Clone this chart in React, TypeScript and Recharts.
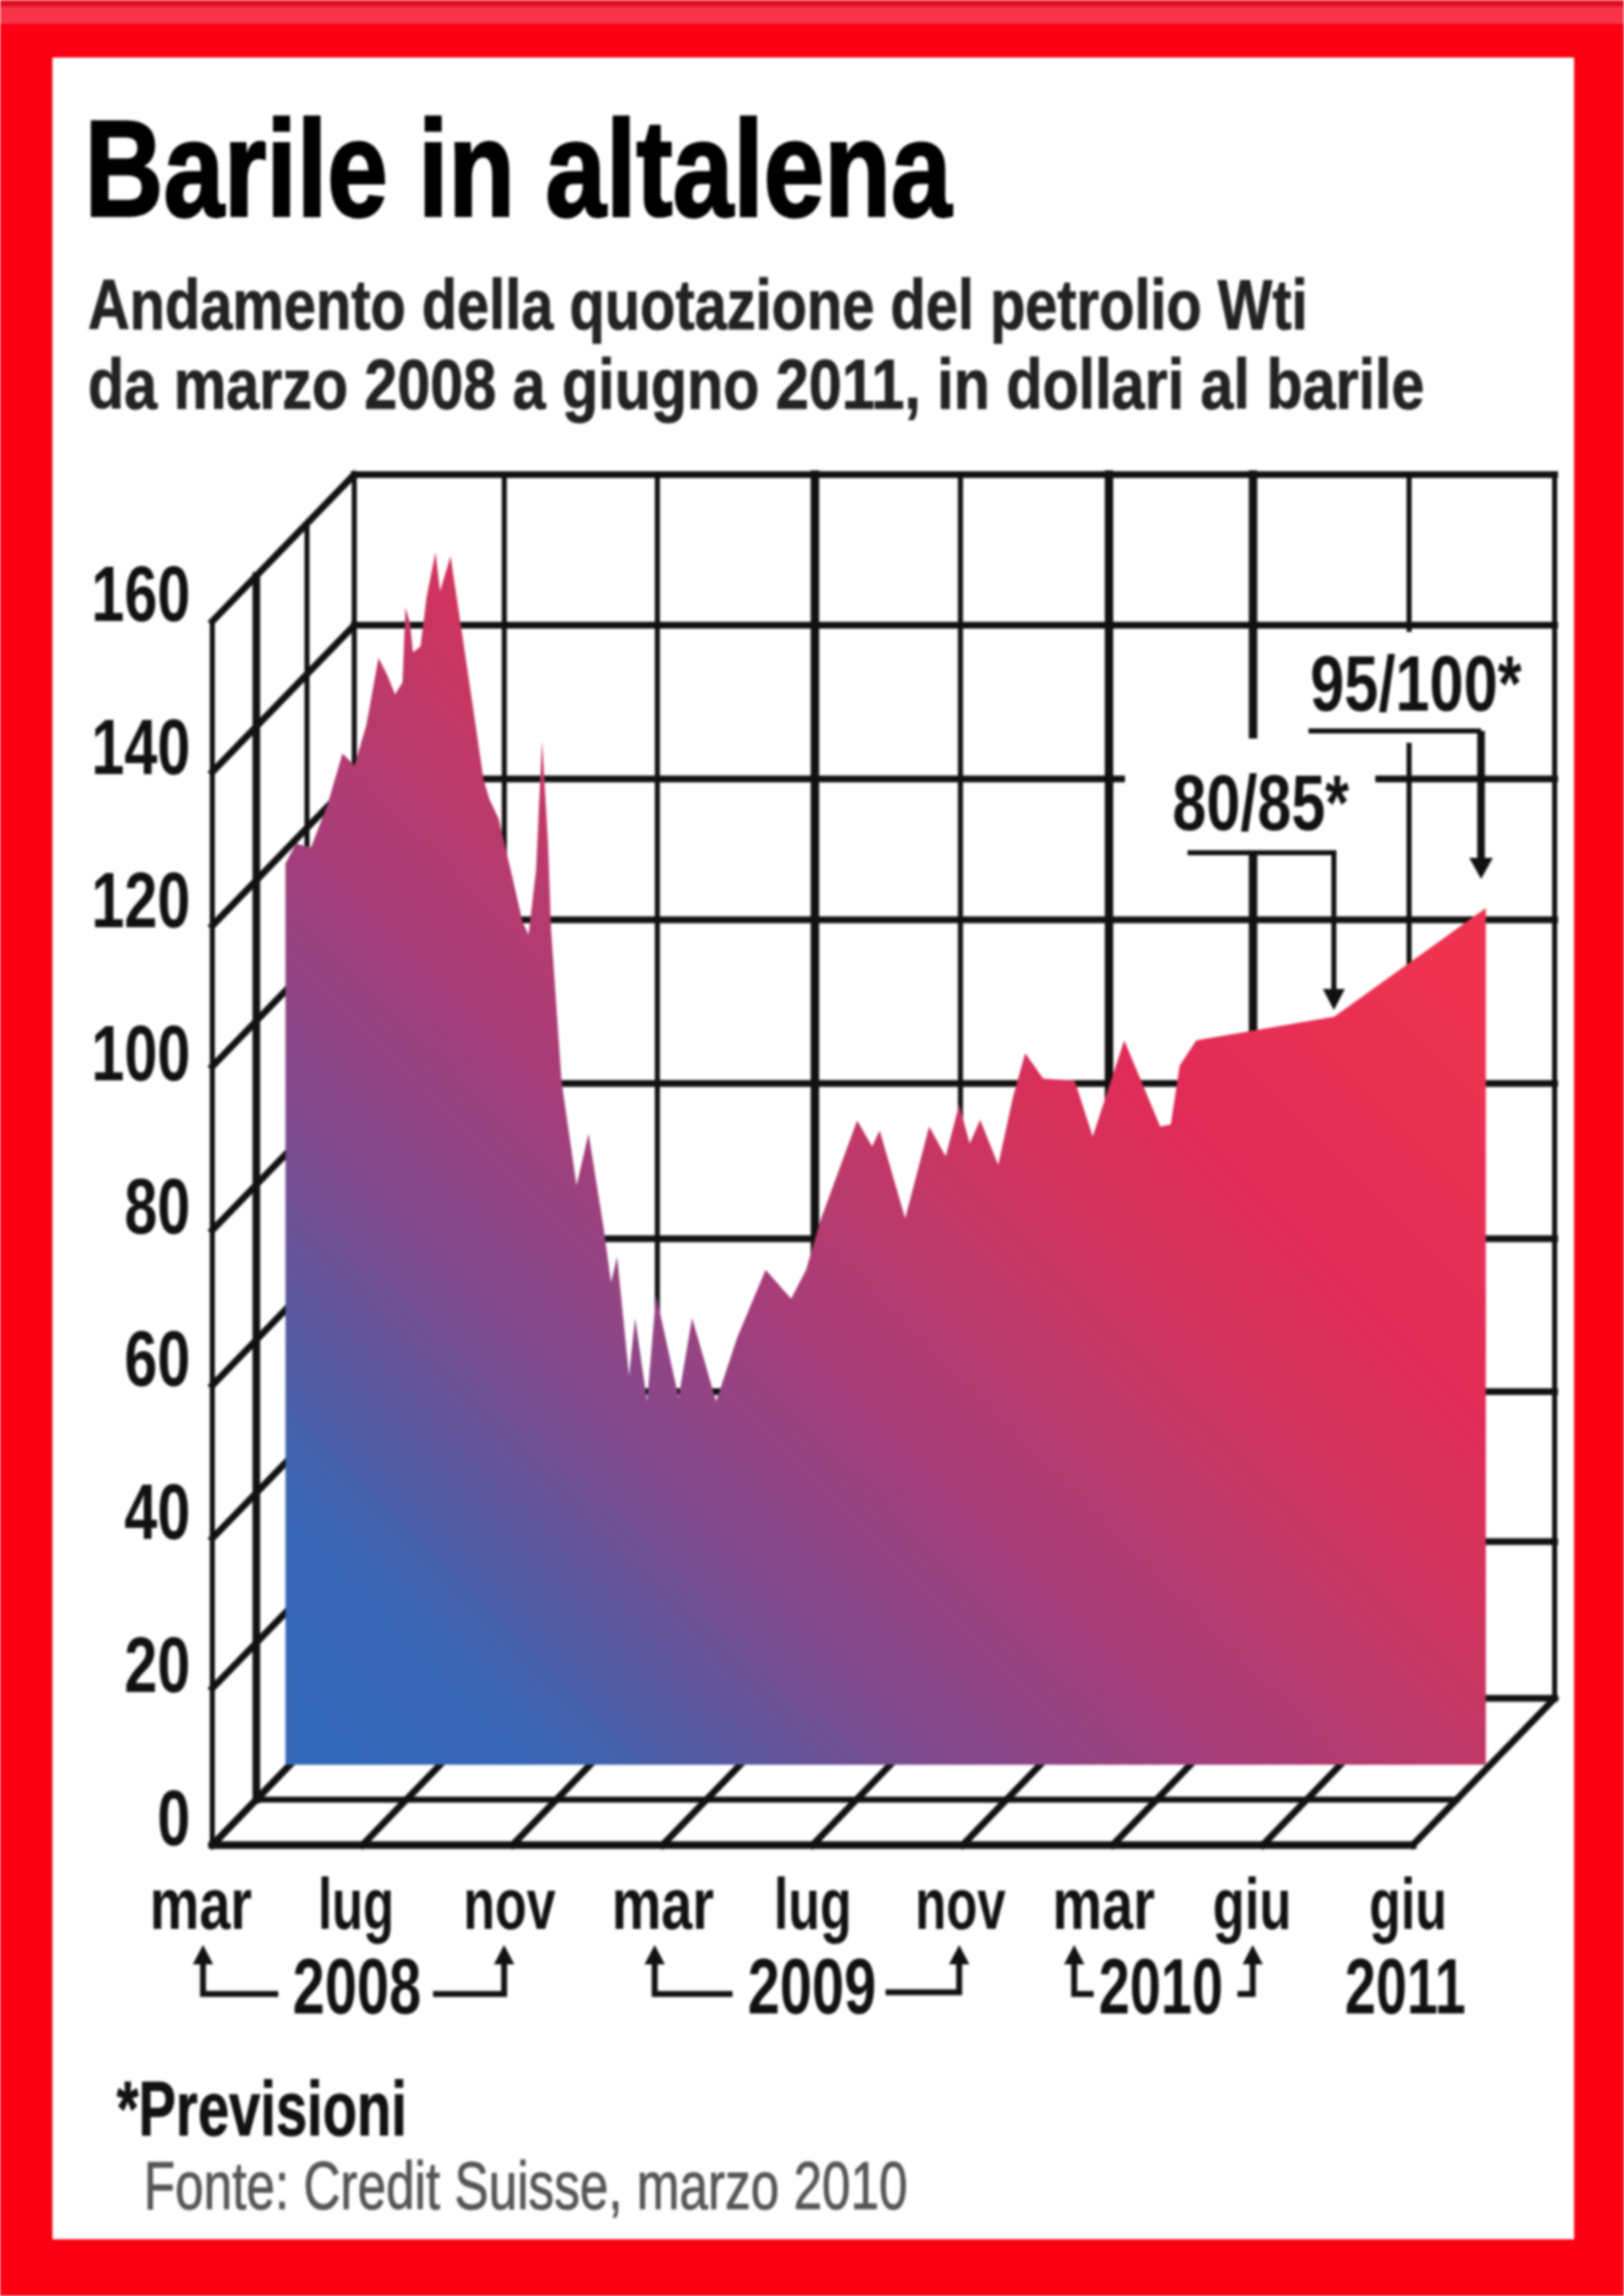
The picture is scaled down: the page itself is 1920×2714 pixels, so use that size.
import { Area, ComposedChart, ReferenceLine, XAxis, YAxis } from 'recharts';

const positions = [
  0, 0.07, 0.17, 0.28, 0.38, 0.46, 0.54, 0.62, 0.68, 0.73, 0.78, 0.8, 0.83, 0.85, 0.9, 0.94, 1, 1.03, 1.1, 1.16,
  1.25, 1.32, 1.36, 1.42, 1.51, 1.58, 1.62, 1.67, 1.71, 1.75, 1.77, 1.84, 1.94, 2.02, 2.12, 2.17, 2.21, 2.29, 2.33,
  2.41, 2.47, 2.62, 2.71, 2.87, 3.01, 3.2, 3.37, 3.47, 3.57, 3.81, 3.91, 3.96, 4.13, 4.29, 4.4, 4.49, 4.56, 4.63,
  4.75, 4.85, 4.93, 5.05, 5.26, 5.38, 5.59, 5.83, 5.9, 5.96, 6.07, 6.99, 8,
];
const prices = [
  117.8, 120.4, 119.9, 125.5, 132.2, 130.6, 136, 144.7, 142.4, 139.9, 141.5, 151.3, 149.2, 145.4, 146.2, 152.6, 158.5,
  153.4, 158, 150.1, 138.2, 128.8, 126.2, 123.7, 116.2, 110.2, 108.5, 116.9, 133.9, 120.4, 109.2, 89.3, 75.7, 82.5,
  70.2, 63, 66.4, 50.8, 58.4, 47.5, 61.4, 48, 58.4, 47.5, 55.8, 64.7, 60.9, 64.7, 71.4, 84.2, 80.8, 82.9, 71.4, 83.4,
  79.5, 86.3, 81.2, 84.3, 78.4, 87.4, 93, 89.7, 89.4, 82.1, 94.7, 83.4, 83.7, 91.4, 94.7, 97.8, 112,
];
const monthLabels = ['mar', 'lug', 'nov', 'mar', 'lug', 'nov', 'mar', 'giu', 'giu'];
const monthTicks = [0, 1, 2, 3, 4, 5, 6, 7, 8];
const priceTicks = [0, 20, 40, 60, 80, 100, 120, 140, 160];
// the printed wall lines are not quite evenly spaced
const wallLevels = [0, 20.5, 40.1, 60.1, 80.4, 101.8, 120.2, 140.3, 160];
const wallColumns = [0, 1, 2.02, 3.07, 4.04, 5.03, 5.99, 7.03, 8];

const chartData = positions.map((pos, i) => ({ pos, price: prices[i] }));

const W = 1920;
const H = 2714;
const FONT = '"Liberation Sans Narrow", "Liberation Sans", sans-serif';

// depth of the 3D box in data units, relative to the plane of the area
const FRONT_X = -0.4876;
const FRONT_Y = -10.52;
const BACK_X = 0.4585;
const BACK_Y = 8.66;

const labelWidths = [121, 90, 109, 121, 92, 107, 121, 93, 92];
const labelNudges = [-100, -94, -90, -86, -86, -89, -97, -99, -92];
const backWidths = [6, 6, 6, 10, 6, 10, 10, 6, 6];

function MonthTick({ x, y, payload, index }: any) {
  return (
    <text
      x={x + labelNudges[index]}
      y={y + 99}
      textAnchor="middle"
      fontFamily={FONT}
      fontWeight={700}
      fontSize={86}
      fill="#111"
      textLength={labelWidths[index]}
      lengthAdjust="spacingAndGlyphs"
    >
      {monthLabels[payload.value]}
    </text>
  );
}

function PriceTick({ x, y, payload }: any) {
  const txt = String(payload.value);
  return (
    <text
      x={x - 26}
      y={y + 95}
      textAnchor="end"
      fontFamily={FONT}
      fontWeight={700}
      fontSize={92}
      fill="#111"
      textLength={txt.length * 39}
      lengthAdjust="spacingAndGlyphs"
    >
      {txt}
    </text>
  );
}

function seg(key: string, x1: number, y1: number, x2: number, y2: number, width: number) {
  return (
    <ReferenceLine
      key={key}
      segment={[{ x: x1, y: y1 }, { x: x2, y: y2 }]}
      stroke="#111"
      strokeWidth={width}
      strokeLinecap="square"
      ifOverflow="visible"
      zIndex={50}
    />
  );
}

function BoxGrid() {
  const lines = [];
  // back wall
  wallLevels.forEach((v) => lines.push(seg(`bh${v}`, BACK_X, v + BACK_Y, 8 + BACK_X, v + BACK_Y, 8)));
  wallColumns.forEach((c, i) => lines.push(seg(`bv${i}`, c + BACK_X, BACK_Y, c + BACK_X, 160 + BACK_Y, backWidths[i])));
  // left wall
  wallLevels.forEach((v) => lines.push(seg(`sh${v}`, FRONT_X, v + FRONT_Y, BACK_X, v + BACK_Y, 8)));
  [[0, 6], [0.31, 9], [0.667, 6]].forEach(([t, w]) => {
    const x = FRONT_X + t * (BACK_X - FRONT_X);
    const y = FRONT_Y + t * (BACK_Y - FRONT_Y);
    lines.push(seg(`sv${t}`, x, y, x, y + 160, w));
  });
  // floor
  monthTicks.forEach((i) => lines.push(seg(`fo${i}`, i + FRONT_X, FRONT_Y, i + BACK_X, BACK_Y, 8)));
  lines.push(seg('f0', FRONT_X, FRONT_Y, 8 + FRONT_X, FRONT_Y, 9));
  const t = 0.31;
  lines.push(
    seg(
      'f1',
      FRONT_X + t * (BACK_X - FRONT_X),
      FRONT_Y + t * (BACK_Y - FRONT_Y),
      8 + FRONT_X + t * (BACK_X - FRONT_X),
      FRONT_Y + t * (BACK_Y - FRONT_Y),
      7,
    ),
  );
  return lines;
}

function Txt({ x, y, w, size, weight = 700, fill = '#111', stroke, children }: any) {
  return (
    <text
      x={x}
      y={y}
      fontFamily={FONT}
      fontSize={size}
      fontWeight={weight}
      fill={fill}
      stroke={stroke ? fill : undefined}
      strokeWidth={stroke}
      textLength={w}
      lengthAdjust="spacingAndGlyphs"
    >
      {children}
    </text>
  );
}

function Overlay() {
  const line = { fill: 'none', stroke: '#111', strokeWidth: 7 };
  return (
    <svg width={W} height={H} style={{ position: 'absolute', left: 0, top: 0 }}>
      <Txt x={100} y={255} w={1025} size={162} stroke={3} fill="#000">Barile in altalena</Txt>
      <Txt x={104} y={389} w={1442} size={84} fill="#222" stroke={1}>Andamento della quotazione del petrolio Wti</Txt>
      <Txt x={104} y={483} w={1580} size={84} fill="#222" stroke={1}>da marzo 2008 a giugno 2011, in dollari al barile</Txt>

      {/* gaps in the grid behind the two forecasts */}
      <rect x={1330} y={873} width={296} height={133} fill="#fff" />
      <rect x={1656} y={747} width={22} height={131} fill="#fff" />

      <Txt x={1549} y={840} w={250} size={92}>95/100*</Txt>
      <path d="M1547 864H1751" {...line} strokeWidth={6} />
      <path d="M1751 864V1020" {...line} strokeWidth={9} />
      <polygon points="1737,1014 1765,1014 1751,1039" fill="#111" />
      <Txt x={1386} y={981} w={209} size={92}>80/85*</Txt>
      <path d="M1404 1008H1577V1175" {...line} strokeWidth={6} />
      <polygon points="1564,1169 1590,1169 1577,1194" fill="#111" />

      <Txt x={346} y={2380} w={152} size={92}>2008</Txt>
      <Txt x={884} y={2380} w={152} size={92}>2009</Txt>
      <Txt x={1299} y={2380} w={147} size={92}>2010</Txt>
      <Txt x={1590} y={2380} w={143} size={92}>2011</Txt>
      <path d="M240 2310V2357H329" {...line} />
      <path d="M512 2357H596V2310" {...line} />
      <path d="M774 2310V2357H866" {...line} />
      <path d="M1047 2355H1134V2310" {...line} />
      <path d="M1270 2310V2357H1293" {...line} />
      <path d="M1463 2357H1481V2310" {...line} />
      {[240, 596, 774, 1134, 1270, 1481].map((x) => (
        <polygon key={x} points={`${x - 12},2322 ${x + 12},2322 ${x},2299`} fill="#111" />
      ))}

      <Txt x={138} y={2524} w={343} size={90} stroke={1}>*Previsioni</Txt>
      <Txt x={170} y={2611} w={903} size={80} weight={400} fill="#555" stroke={1}>
        Fonte: Credit Suisse, marzo 2010
      </Txt>
    </svg>
  );
}

export default function App() {
  return (
    <div style={{ position: 'absolute', left: 0, top: 0, width: W, height: H, overflow: 'hidden', background: '#fb0012', filter: 'blur(1.6px)' }}>
      <div style={{ position: 'absolute', left: 0, top: 0, width: W, height: 8, background: '#e21024' }} />
      <div style={{ position: 'absolute', left: 0, top: 8, width: W, height: 20, background: '#f5344a' }} />
      <div style={{ position: 'absolute', left: 62, top: 68, width: 1799, height: 2579, background: '#fff' }} />
      <div style={{ position: 'absolute', left: 0, top: 0 }}>
        <ComposedChart
          width={W}
          height={H}
          data={chartData}
          margin={{ left: 250, right: W - 1838, top: 561, bottom: H - 2181 - 1 }}
        >
          <defs>
            <linearGradient id="barrelFill" gradientUnits="userSpaceOnUse" x1={415} y1={2060} x2={1516} y2={959}>
              <stop offset="0" stopColor="#3468b8" />
              <stop offset="0.1" stopColor="#3a66b4" />
              <stop offset="0.17" stopColor="#4f5ca4" />
              <stop offset="0.3" stopColor="#7f4a8e" />
              <stop offset="0.47" stopColor="#a83c78" />
              <stop offset="0.56" stopColor="#b83a6c" />
              <stop offset="0.68" stopColor="#d2335c" />
              <stop offset="0.78" stopColor="#e02b58" />
              <stop offset="1" stopColor="#ee3350" />
            </linearGradient>
          </defs>
          <XAxis
            dataKey="pos"
            type="number"
            domain={[FRONT_X, 8 + BACK_X]}
            ticks={monthTicks}
            interval={0}
            height={1}
            tickSize={0}
            tickMargin={0}
            axisLine={false}
            tickLine={false}
            tick={<MonthTick />}
          />
          <YAxis
            type="number"
            domain={[FRONT_Y, 160 + BACK_Y]}
            ticks={priceTicks}
            interval={0}
            width={1}
            tickSize={0}
            tickMargin={0}
            axisLine={false}
            tickLine={false}
            tick={<PriceTick />}
          />
          {BoxGrid()}
          <Area
            dataKey="price"
            type="linear"
            baseValue={0}
            stroke="none"
            fill="url(#barrelFill)"
            fillOpacity={1}
            isAnimationActive={false}
            dot={false}
            activeDot={false}
          />
        </ComposedChart>
      </div>
      <Overlay />
    </div>
  );
}
